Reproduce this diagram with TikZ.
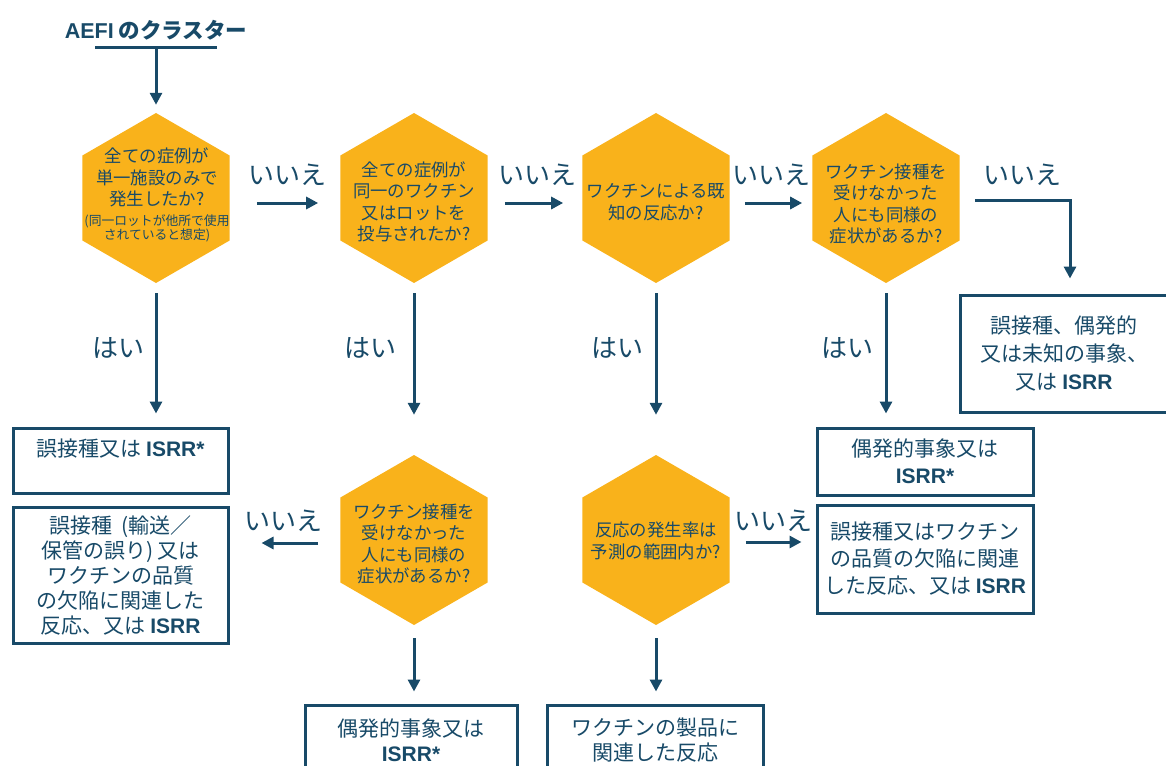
\documentclass[tikz,border=0pt]{standalone}
\usepackage{fontspec}
\setmainfont{Noto Sans CJK JP}
\newfontfamily\lat{Liberation Sans}
\usetikzlibrary{shapes.geometric,arrows.meta}
\definecolor{ink}{RGB}{24,74,104}
\definecolor{hexc}{RGB}{249,178,27}
\newcommand{\isrr}[1]{{\lat\bfseries #1}}
\begin{document}
\begin{tikzpicture}[x=1pt,y=-1pt,
  hex/.style={regular polygon, regular polygon sides=6, shape border rotate=30,
    minimum size=170pt, inner sep=0pt, fill=hexc, draw=none},
  hextext/.style={align=center, text=ink, inner sep=0pt, font=\fontsize{17.4}{21.5}\selectfont},
  box/.style={draw=ink, line width=3pt, fill=white, align=center, text=ink,
    inner sep=0pt, font=\fontsize{21}{27}\selectfont},
  arr/.style={draw=ink, line width=3pt, -{Triangle[length=12pt,width=12pt]}},
  lab/.style={text=ink, inner sep=0pt, font=\fontsize{26}{30}\selectfont}]
\useasboundingbox (0,0) rectangle (1166,765);

% title
\node[text=ink, inner sep=0pt, font=\fontsize{21.5}{25}\selectfont\bfseries] (t) at (156,30) {\isrr{AEFI} のクラスター};
\coordinate (tl) at (95,48);
\coordinate (tr) at (217,48);
\coordinate (tm) at (156,48);
\draw[draw=ink, line width=3pt] (tl) -- (tr);

% hexagons
\node[hex] (h1) at (156,198) {};
\node[hex] (h2) at (414,198) {};
\node[hex] (h3) at (656,198) {};
\node[hex] (h4) at (886,198) {};
\node[hex] (h5) at (414,540) {};
\node[hex] (h6) at (656,540) {};

\node[hextext] (h1t) at (157,195) {全ての症例が\\単一施設のみで\\発生したか?\\[-2pt]
  {\fontsize{12.8}{15}\selectfont (同一ロットが他所で使用}\\[-7pt]
  {\fontsize{12.8}{15}\selectfont されていると想定)}};
\node[hextext] (h2t) at (414,202) {全ての症例が\\同一のワクチン\\又はロットを\\投与されたか?};
\node[hextext] (h3t) at (656,202) {ワクチンによる既\\知の反応か?};
\node[hextext] (h4t) at (886,204) {ワクチン接種を\\受けなかった\\人にも同様の\\症状があるか?};
\node[hextext] (h5t) at (414,544) {ワクチン接種を\\受けなかった\\人にも同様の\\症状があるか?};
\node[hextext] (h6t) at (656,541) {反応の発生率は\\予測の範囲内か?};

% boxes
\node[box, minimum width=215pt, minimum height=65pt] (b1) at (120.5,460.5) {誤接種又は \isrr{ISRR*}\\[-2pt]\mbox{}};
\node[box, minimum width=215pt, minimum height=136pt, font=\fontsize{21}{25}\selectfont] (b2) at (120.5,575) {誤接種\ \ (輸送／\\保管の誤り)\ 又は\\ワクチンの品質\\の欠陥に関連した\\反応、又は \isrr{ISRR}};
\node[box, minimum width=208pt, minimum height=117pt, font=\fontsize{21}{28}\selectfont] (b3) at (1064,353.5) {誤接種、偶発的\\又は未知の事象、\\又は \isrr{ISRR}};
\node[box, minimum width=216pt, minimum height=67pt] (b4) at (925,461.5) {偶発的事象又は\\\isrr{ISRR*}};
\node[box, minimum width=216pt, minimum height=108pt] (b6) at (925,559) {誤接種又はワクチン\\の品質の欠陥に関連\\した反応、又は \isrr{ISRR}};
\node[box, minimum width=212pt, minimum height=70pt, font=\fontsize{21}{25}\selectfont] (b5) at (411,740) {偶発的事象又は\\\isrr{ISRR*}};
\node[box, minimum width=216pt, minimum height=70pt, font=\fontsize{21}{25}\selectfont] (b7) at (655,740) {ワクチンの製品に\\関連した反応};

% connectors
\draw[arr, shorten >=8pt] (tm) -- (h1.north);
\draw[arr, shorten <=27pt, shorten >=22pt] ([yshift=-5pt]h1.east) -- ([yshift=-5pt]h2.west);
\draw[arr, shorten <=17pt, shorten >=19pt] ([yshift=-5pt]h2.east) -- ([yshift=-5pt]h3.west);
\draw[arr, shorten <=15pt, shorten >=10pt] ([yshift=-5pt]h3.east) -- ([yshift=-5pt]h4.west);
\draw[arr, shorten <=15pt, shorten >=15pt] ([yshift=-2pt]h4.east) -| ([xshift=6pt]b3.north);

\draw[arr, shorten <=10pt, shorten >=13pt] (h1.south) -- (b1.north -| h1.south);
\draw[arr, shorten <=10pt, shorten >=40pt] (h2.south) -- (h5.north);
\draw[arr, shorten <=10pt, shorten >=40pt] (h3.south) -- (h6.north);
\draw[arr, shorten <=10pt, shorten >=13pt] (h4.south) -- (b4.north -| h4.south);

\draw[arr, shorten <=22pt, shorten >=32pt] ([yshift=-3pt]h5.west) -- ([yshift=-3pt]h5.west -| b2.east);
\draw[arr, shorten <=16pt, shorten >=14pt] ([yshift=-2pt]h6.east) -- ([yshift=-2pt]h6.east -| b6.west);
\draw[arr, shorten <=13pt, shorten >=12pt] (h5.south) -- (b5.north -| h5.south);
\draw[arr, shorten <=13pt, shorten >=12pt] (h6.south) -- (b7.north -| h6.south);

% labels
\node[lab] (l1) at (287,175) {いいえ};
\node[lab] (l2) at (537,175) {いいえ};
\node[lab] (l3) at (771,175) {いいえ};
\node[lab] (l4) at (1022,175) {いいえ};
\node[lab] (l5) at (283,521) {いいえ};
\node[lab] (l6) at (773,521) {いいえ};
\node[lab] (y1) at (118,348) {はい};
\node[lab] (y2) at (370,348) {はい};
\node[lab] (y3) at (617,348) {はい};
\node[lab] (y4) at (847,348) {はい};
\end{tikzpicture}
\end{document}
